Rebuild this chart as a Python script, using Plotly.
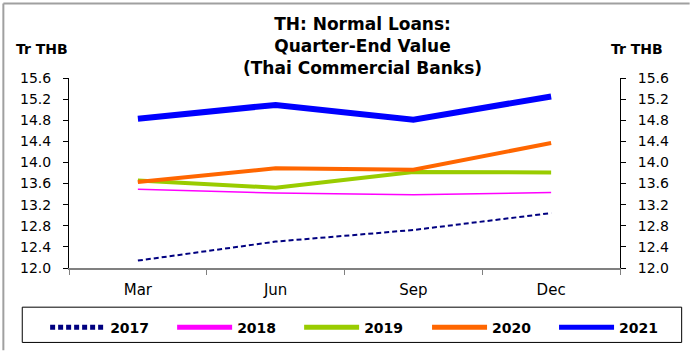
import plotly.graph_objects as go

quarters = ["Mar", "Jun", "Sep", "Dec"]
y2017 = [12.14, 12.50, 12.72, 13.04]
y2018 = [13.49, 13.42, 13.39, 13.43]
y2019 = [13.66, 13.52, 13.82, 13.81]
y2020 = [13.63, 13.89, 13.86, 14.37]
y2021 = [14.83, 15.09, 14.81, 15.25]
yticks = [12.0, 12.4, 12.8, 13.2, 13.6, 14.0, 14.4, 14.8, 15.2, 15.6]

series = [
    ("2017", y2017, "#000080", 2, "5px,3px", "legend"),
    ("2018", y2018, "#FF00FF", 1.5, "solid", "legend"),
    ("2019", y2019, "#99CC00", 4, "solid", "legend"),
    ("2020", y2020, "#FF6600", 4, "solid", "legend2"),
    ("2021", y2021, "#0000FF", 6, "solid", "legend2"),
]

FONT = "DejaVu Sans"
L, R, T, B = 69, 623, 78, 272
PW, PH = R - L, B - T


def px(x):
    return (x - L) / PW


def py(y):
    return (B - y) / PH


fig = go.Figure()
for name, vals, col, w, dash, lg in series:
    fig.add_trace(go.Scatter(x=quarters, y=vals, name=name, mode="lines", legend=lg,
                             line=dict(color=col, width=w, dash=dash)))
# invisible trace to activate the right axis
fig.add_trace(go.Scatter(x=quarters, y=y2021, yaxis="y2", showlegend=False,
                         mode="lines", line=dict(width=0), hoverinfo="skip", opacity=0))

tickfmt = [f"{v:.1f}" for v in yticks]
axis_common = dict(range=[12.0, 15.6], tickvals=yticks, ticktext=tickfmt,
                   showgrid=False, zeroline=False, showline=True, linecolor="#000000",
                   linewidth=1, ticks="outside", ticklen=5, tickcolor="#000000",
                   automargin=False, ticklabelstandoff=9,
                   tickfont=dict(family=FONT, size=14, color="#000000"))

legend_common = dict(orientation="h", xanchor="left", y=py(333), yanchor="middle",
                     borderwidth=0, bgcolor="rgba(0,0,0,0)",
                     font=dict(family=FONT, size=14, color="#000000", weight="bold"),
                     itemwidth=55, entrywidth=57, entrywidthmode="pixels",
                     itemsizing="constant")

fig.update_layout(
    template="none",
    width=693, height=356,
    margin=dict(l=L, r=693 - R, t=T, b=356 - B, pad=0),
    paper_bgcolor="white", plot_bgcolor="white",
    font=dict(family=FONT, color="#000000"),
    xaxis=dict(type="category", showgrid=False, zeroline=False, showline=True,
               linecolor="#808080", linewidth=1.5, ticks="outside", tickson="boundaries",
               ticklen=5, tickcolor="#808080", automargin=False, ticklabelstandoff=7,
               tickfont=dict(family=FONT, size=15, color="#000000"),
               range=[-0.5, 3.5]),
    yaxis=dict(**axis_common, side="left"),
    yaxis2=dict(**axis_common, side="right", overlaying="y"),
    showlegend=True,
    legend=dict(**legend_common, x=px(45)),
    legend2=dict(**legend_common, x=px(45 + 3 * 128)),
    annotations=[
        dict(text="<b>TH: Normal Loans:<br>Quarter-End Value<br>(Thai Commercial Banks)</b>",
             xref="paper", yref="paper", x=px(364), y=py(45),
             xanchor="center", yanchor="middle", showarrow=False,
             font=dict(size=17, family=FONT), align="center"),
        dict(text="<b>Tr THB</b>", xref="paper", yref="paper",
             x=px(14), y=py(48), xanchor="left", yanchor="middle",
             showarrow=False, font=dict(size=14, family=FONT)),
        dict(text="<b>Tr THB</b>", xref="paper", yref="paper",
             x=px(612), y=py(48), xanchor="left", yanchor="middle",
             showarrow=False, font=dict(size=14, family=FONT)),
    ],
    shapes=[
        dict(type="line", xref="paper", yref="paper", x0=px(3), x1=px(3),
             y0=py(356), y1=py(2), line=dict(color="#A0A0A0", width=2)),
        dict(type="line", xref="paper", yref="paper", x0=px(3), x1=px(693),
             y0=py(2), y1=py(2), line=dict(color="#A0A0A0", width=2)),
        dict(type="rect", xref="paper", yref="paper", x0=px(22), x1=px(685),
             y0=py(312), y1=py(348), line=dict(color="#000000", width=1),
             fillcolor="rgba(0,0,0,0)"),
    ],
)

fig.write_html("out.html", config={"displayModeBar": False},
               post_script="document.body.style.margin='0';document.body.style.overflow='hidden';")
